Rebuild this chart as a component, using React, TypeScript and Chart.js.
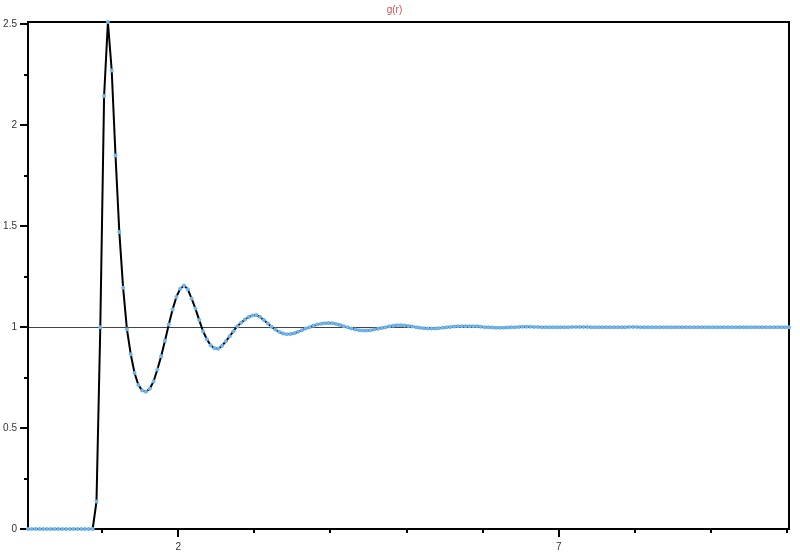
import React, { useEffect, useRef } from "react";
import { Chart, registerables } from "chart.js";

Chart.register(...registerables);

const TITLE = "g(r)";
const R_START = 0.025;
const R_STEP = 0.05;

const G_VALUES: number[] = [
  0, 0, 0, 0, 0, 0, 0, 0, 0, 0,
  0, 0, 0, 0, 0, 0, 0, 0, 0.136, 1.0,
  2.145, 2.512, 2.272, 1.85, 1.471, 1.195, 0.99, 0.866, 0.773, 0.714,
  0.686, 0.68, 0.695, 0.731, 0.79, 0.856, 0.933, 1.013, 1.088, 1.15,
  1.19, 1.207, 1.188, 1.142, 1.092, 1.035, 0.98, 0.94, 0.91, 0.895,
  0.893, 0.908, 0.93, 0.955, 0.98, 1.005, 1.022, 1.038, 1.05, 1.058,
  1.06, 1.05, 1.035, 1.018, 1.002, 0.988, 0.977, 0.969, 0.965, 0.966,
  0.97, 0.977, 0.985, 0.993, 1.0, 1.007, 1.013, 1.017, 1.02, 1.021,
  1.02, 1.016, 1.011, 1.005, 0.999, 0.993, 0.988, 0.985, 0.983, 0.983,
  0.985, 0.988, 0.992, 0.996, 1.0, 1.004, 1.007, 1.009, 1.009, 1.008,
  1.006, 1.003, 1.0, 0.997, 0.995, 0.994, 0.993, 0.994, 0.995, 0.997,
  0.999, 1.001, 1.003, 1.004, 1.005, 1.005, 1.005, 1.005, 1.004, 1.002,
  1.0, 0.999, 0.998, 0.997, 0.997, 0.997, 0.998, 0.999, 1.0, 1.001,
  1.002, 1.002, 1.002, 1.001, 1.001, 1.0, 0.999, 0.999, 0.999, 0.999,
  0.999, 1.0, 1.0, 1.001, 1.001, 1.001, 1.001, 1.001, 1.0, 1.0,
  1.0, 1.0, 0.999, 0.999, 0.999, 1.0, 1.0, 1.0, 1.001, 1.001,
  1.001, 1.0, 1.0, 1.0, 1.0, 0.999, 1.0, 1.0, 1.0, 1.0,
  1.0, 1.0, 1.0, 1.0, 1.0, 1.0, 1.0, 1.0, 1.0, 1.0,
  1.0, 1.0, 1.0, 1.0, 1.0, 1.0, 1.0, 1.0, 1.0, 1.0,
  1.0, 1.0, 1.0, 1.0, 1.0, 1.0, 1.0, 1.0, 1.0, 1.0,
  1.0,
];

const X_TICKS = [1, 2, 3, 4, 5, 6, 7, 8, 9, 10];
const X_LABELED = [2, 7];
const Y_MAJOR = [0, 0.5, 1, 1.5, 2, 2.5];
const Y_MINOR = [0.25, 0.75, 1.25, 1.75, 2.25];
const REF_LINE = 1;

const FONT = "'Liberation Sans', Arial, sans-serif";

const decorPlugin = {
  id: "decor",
  beforeDatasetsDraw(chart: any) {
    const { ctx, chartArea: a, scales } = chart;
    const xs = scales.x;
    const ys = scales.y;
    ctx.save();
    // reference line at g=1
    const py = Math.round(ys.getPixelForValue(REF_LINE)) + 0.5;
    ctx.strokeStyle = "#444";
    ctx.lineWidth = 1;
    ctx.beginPath();
    ctx.moveTo(a.left, py);
    ctx.lineTo(a.right, py);
    ctx.stroke();
    // frame
    ctx.strokeStyle = "#000";
    ctx.lineWidth = 2;
    ctx.strokeRect(a.left, a.top, a.right - a.left, a.bottom - a.top);
    // ticks
    ctx.beginPath();
    for (const v of X_TICKS) {
      const px = Math.round(xs.getPixelForValue(v));
      const len = X_LABELED.includes(v) ? 8 : 4;
      ctx.moveTo(px, a.bottom);
      ctx.lineTo(px, a.bottom + len);
    }
    for (const v of Y_MAJOR) {
      const p = Math.round(ys.getPixelForValue(v));
      ctx.moveTo(a.left - 8, p);
      ctx.lineTo(a.left, p);
    }
    for (const v of Y_MINOR) {
      const p = Math.round(ys.getPixelForValue(v));
      ctx.moveTo(a.left - 4, p);
      ctx.lineTo(a.left, p);
    }
    ctx.stroke();
    ctx.restore();
  },
};

export default function App() {
  const canvasRef = useRef<HTMLCanvasElement | null>(null);

  useEffect(() => {
    document.body.style.margin = "0";
    const points = G_VALUES.map((g, i) => ({ x: R_START + R_STEP * i, y: g }));
    const rMin = R_START;
    const rMax = R_START + R_STEP * (G_VALUES.length - 1);
    const gMax = Math.max(...G_VALUES);

    const chart = new Chart(canvasRef.current as HTMLCanvasElement, {
      type: "line",
      data: {
        datasets: [
          {
            data: points,
            borderColor: "#000",
            borderWidth: 2,
            tension: 0,
            pointRadius: 2,
            pointBorderWidth: 0,
            pointBackgroundColor: "#6fb6ee",
            pointBorderColor: "#6fb6ee",
            fill: false,
            clip: false as any,
          },
        ],
      },
      options: {
        animation: false,
        responsive: true,
        maintainAspectRatio: false,
        layout: { padding: { left: 0, right: 11, top: 0, bottom: 0 } },
        plugins: {
          legend: { display: false },
          tooltip: { enabled: false },
          title: {
            display: true,
            text: TITLE,
            color: "#c8504f",
            font: { family: FONT, size: 10, weight: "normal" },
            padding: { top: 4, bottom: 6 },
          },
        },
        scales: {
          x: {
            type: "linear",
            min: rMin,
            max: rMax,
            grid: { display: false, drawTicks: false },
            border: { display: false },
            afterBuildTicks: (scale: any) => {
              scale.ticks = X_TICKS.map((v) => ({ value: v }));
            },
            afterFit: (scale: any) => {
              scale.height = 28;
            },
            ticks: {
              autoSkip: false,
              maxRotation: 0,
              padding: 12,
              color: "#333",
              font: { family: FONT, size: 10 },
              callback: (v: any) => (X_LABELED.includes(Number(v)) ? String(v) : ""),
            },
          },
          y: {
            type: "linear",
            min: 0,
            max: gMax,
            grid: { display: false, drawTicks: false },
            border: { display: false },
            afterBuildTicks: (scale: any) => {
              scale.ticks = Y_MAJOR.map((v) => ({ value: v }));
            },
            afterFit: (scale: any) => {
              scale.width = 28;
            },
            ticks: {
              autoSkip: false,
              padding: 11,
              color: "#333",
              font: { family: FONT, size: 10 },
              callback: (v: any) => String(v),
            },
          },
        },
      },
      plugins: [decorPlugin],
    });
    return () => chart.destroy();
  }, []);

  return (
    <div style={{ position: "relative", width: 800, height: 557 }}>
      <canvas ref={canvasRef} />
    </div>
  );
}
